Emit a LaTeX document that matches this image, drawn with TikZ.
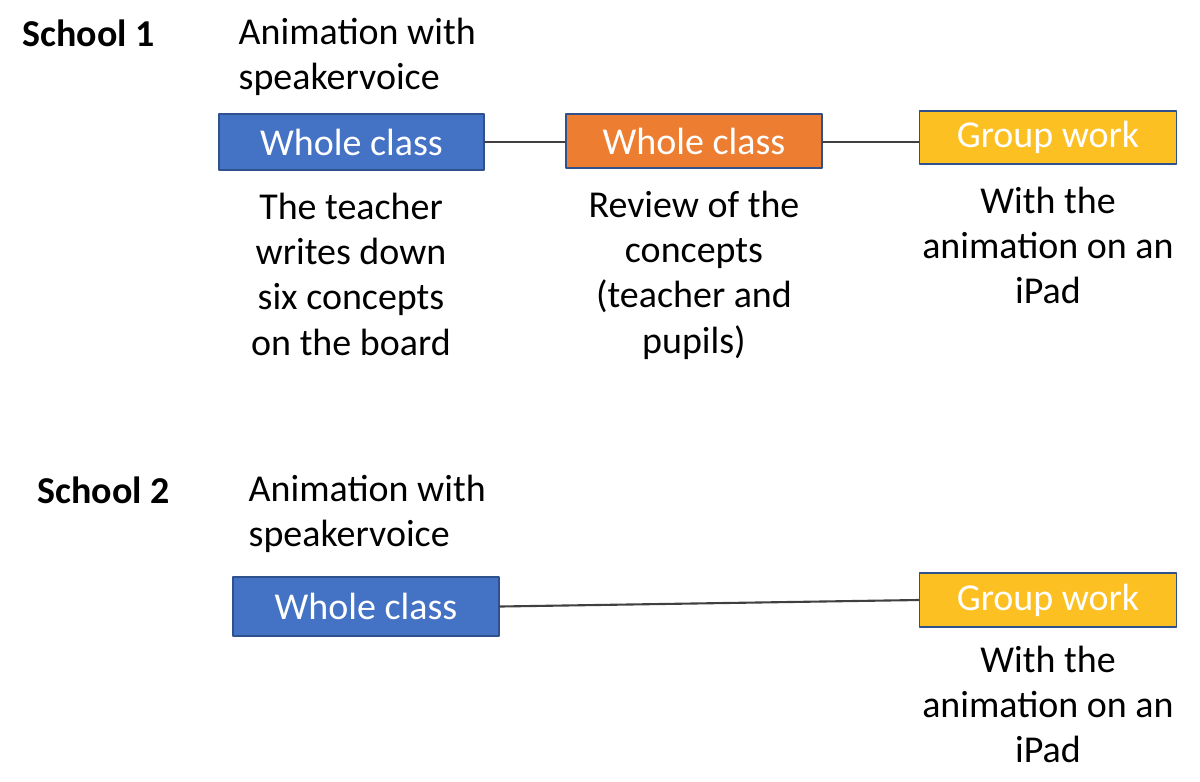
\documentclass[tikz,border=0pt]{standalone}
\usepackage{fontspec}
\setmainfont{Carlito}
\definecolor{boxblue}{RGB}{68,114,196}
\definecolor{boxorange}{RGB}{237,125,49}
\definecolor{boxyellow}{RGB}{253,192,35}
\definecolor{boxline}{RGB}{47,82,143}
\definecolor{linkgray}{RGB}{64,64,64}
\begin{document}
\begin{tikzpicture}[x=0.01cm, y=-0.01cm, line join=round, line cap=round]
	\tikzset{every node/.style={font=\fontsize{10.8}{12.9}\selectfont, inner sep=0pt},
		stage/.style={draw=boxline, line width=0.5pt, text=white, minimum height=0.56cm},
		note/.style={align=center, anchor=north},
		school/.style={anchor=west, font=\fontsize{10.8}{12.9}\selectfont\bfseries},
		link/.style={draw=linkgray, line width=0.6pt}}
	\useasboundingbox (0,0) rectangle (1200,781);
	% School 1
	\node[school] (s1) at (22,33) {School 1};
	\node[anchor=north west, align=left] (an1) at (238,17) {Animation with\\speakervoice};
	\node[stage, fill=boxblue, minimum width=2.65cm] (wc1) at (351.5,142) {Whole class};
	\node[stage, fill=boxorange, minimum width=2.56cm, minimum height=0.54cm] (rv1) at (694,141) {Whole class};
	\node[stage, fill=boxyellow, minimum width=2.57cm, minimum height=0.53cm] (gw1) at (1048,137.5) {Group work};
	\node[note] (t1) at (351,192) {The teacher\\writes down\\six concepts\\on the board};
	\node[note] (t2) at (694,190) {Review of the\\concepts\\(teacher and\\pupils)};
	\node[note] (t3) at (1048,186) {With the\\animation on an\\iPad};
	\draw[link] (wc1.east) -- (wc1.east -| rv1.west);
	\draw[link] (wc1.east -| rv1.east) -- (wc1.east -| gw1.west);
	% School 2
	\node[school] (s2) at (37,490) {School 2};
	\node[anchor=north west, align=left] (an2) at (248,474) {Animation with\\speakervoice};
	\node[stage, fill=boxblue, minimum width=2.66cm, minimum height=0.59cm] (wc2) at (366,606.5) {Whole class};
	\node[stage, fill=boxyellow, minimum width=2.57cm, minimum height=0.54cm] (gw2) at (1048,600) {Group work};
	\node[note] (t4) at (1048,645) {With the\\animation on an\\iPad};
	\draw[link] (wc2.east) -- (gw2.west);
\end{tikzpicture}
\end{document}
